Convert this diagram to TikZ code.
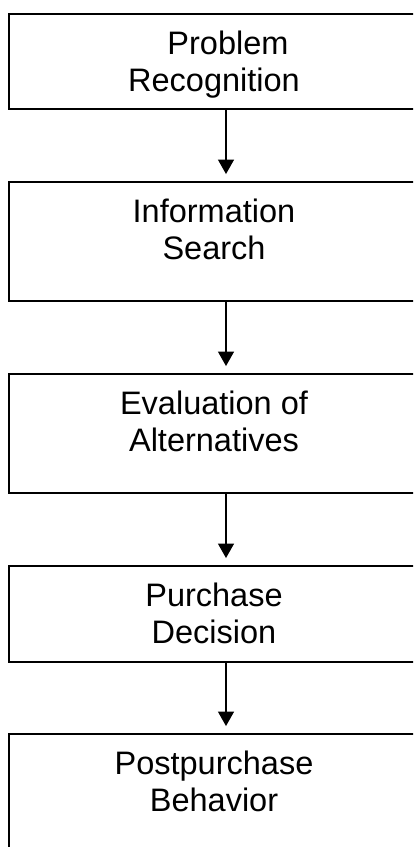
\documentclass[tikz,border=0pt]{standalone}
\usepackage{fontspec}
\setmainfont{Liberation Sans}
\usetikzlibrary{arrows.meta}

\begin{document}
\begin{tikzpicture}[x=0.02cm,y=-0.02cm,
   stagebox/.style={draw,rectangle,line width=1.1pt,minimum width=8.68cm,inner sep=0pt},
   stagetext/.style={anchor=north,align=center,inner sep=0pt,
      font=\fontsize{18.5}{21}\selectfont,xshift=-0.24cm,yshift=-0.36cm},
   flow/.style={-{Triangle[length=0.29cm,width=0.32cm]},line width=0.8pt,shorten >=0.14cm}]
   \useasboundingbox (0,0) rectangle (413,847);
   \clip (0,0) rectangle (413,847);
   \node (stage1) at (226,61.5)  [stagebox,minimum height=1.9cm]  {};
   \node (stage2) at (226,241.5) [stagebox,minimum height=2.38cm] {};
   \node (stage3) at (226,433.5) [stagebox,minimum height=2.38cm] {};
   \node (stage4) at (226,614)   [stagebox,minimum height=1.92cm] {};
   \node (stage5) at (226,793.5) [stagebox,minimum height=2.38cm] {};
   \node (text1) at (stage1.north) [stagetext] {\hspace*{0.56cm}Problem\\Recognition};
   \node (text2) at (stage2.north) [stagetext] {Information\\Search};
   \node (text3) at (stage3.north) [stagetext] {Evaluation of\\Alternatives};
   \node (text4) at (stage4.north) [stagetext] {Purchase\\Decision};
   \node (text5) at (stage5.north) [stagetext] {Postpurchase\\Behavior};
   \draw[flow] (stage1) to (stage2);
   \draw[flow] (stage2) to (stage3);
   \draw[flow] (stage3) to (stage4);
   \draw[flow] (stage4) to (stage5);
\end{tikzpicture}
\end{document}
